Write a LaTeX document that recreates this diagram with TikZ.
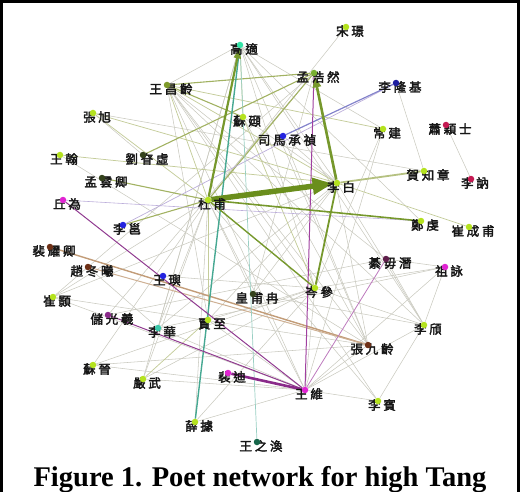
\documentclass[tikz,border=0pt]{standalone}
\usepackage{fontspec}
\usetikzlibrary{arrows.meta, backgrounds}
\newfontfamily\cjk{Noto Sans CJK TC}[LetterSpace=22, FakeBold=2.5]
\newfontfamily\capfont{Liberation Serif}
\definecolor{DotYG}{HTML}{B4E21E}
\definecolor{DotGreen}{HTML}{78B030}
\definecolor{DotOlive}{HTML}{7E9A2A}
\definecolor{DotCyan}{HTML}{34E2A6}
\definecolor{DotTeal}{HTML}{3CC8AA}
\definecolor{DotDeepTeal}{HTML}{16664A}
\definecolor{DotBlue}{HTML}{2424E0}
\definecolor{DotNavy}{HTML}{1E1EA0}
\definecolor{DotMagenta}{HTML}{E024D2}
\definecolor{DotPurple}{HTML}{8A2A8A}
\definecolor{DotPlum}{HTML}{5E1E4A}
\definecolor{DotCrimson}{HTML}{C41A52}
\definecolor{DotBrown}{HTML}{6E3016}
\definecolor{DotDark}{HTML}{34421C}
\definecolor{LabelDark}{HTML}{161616}
\definecolor{EdgeGray}{HTML}{CACAC0}
\definecolor{EdgeKhaki}{HTML}{C4CC9A}
\definecolor{EdgeOlive}{HTML}{A2B262}
\definecolor{EdgeGreen}{HTML}{76982C}
\definecolor{MainGreen}{HTML}{6A8E1C}
\definecolor{EdgeLilac}{HTML}{BCAEDA}
\definecolor{EdgePurple}{HTML}{A040A0}
\definecolor{EdgeTan}{HTML}{C29C78}
\definecolor{EdgeTeal}{HTML}{46A892}

\begin{document}
\begin{tikzpicture}[x=1pt, y=-1pt,
    pdot/.style={circle, inner sep=0pt, minimum size=6.5pt, fill=#1},
    lbl/.style={font=\cjk\fontsize{12.5}{12.5}\selectfont, text=LabelDark, inner sep=0pt},
    faint/.style={draw=EdgeGray, line width=0.55pt},
    khaki/.style={draw=EdgeKhaki, line width=0.75pt},
    olive/.style={draw=EdgeOlive, line width=1.1pt},
    strong/.style={draw=EdgeGreen, line width=#1},
    mainarrow/.style={draw=MainGreen, line width=5.5pt, -{Triangle[length=20pt, width=16pt]}, shorten >=1pt}
  ]
  \useasboundingbox (0,0) rectangle (522,492);

  % frame
  \draw[line width=3.3pt] (1.7,492) -- (1.7,1.6) -- (518.3,1.6) -- (518.3,492);

  % poets
  \foreach \n/\x/\y/\c/\t in {
      songjing/346/27/DotYG/宋璟,
      gaoshi/240/45/DotCyan/高適,
      menghaoran/314/73/DotGreen/孟浩然,
      lilongji/396/83/DotNavy/李隆基,
      wangchangling/167/85/DotOlive/王昌齡,
      zhangxu/93/113/DotYG/張旭,
      suting/243/117/DotYG/蘇頲,
      simachengzhen/283/136/DotBlue/司馬承禎,
      changjian/383/129/DotYG/常建,
      xiaoyingshi/446/125/DotCrimson/蕭穎士,
      wanghan/60/155/DotYG/王翰,
      liushenxu/143/155/DotDark/劉眘虛,
      mengyunqing/102/178/DotDark/孟雲卿,
      dufu/208/200/DotYG/杜甫,
      libai/337/183/DotYG/李白,
      hezhizhang/424/171/DotYG/賀知章,
      line/471/179/DotCrimson/李訥,
      zhengqian/421/221/DotYG/鄭虔,
      cuichengfu/469/227/DotYG/崔成甫,
      qiuwei/63/200/DotMagenta/丘為,
      liyong/123/225/DotBlue/李邕,
      peiyaoqing/50/247/DotBrown/裴耀卿,
      zhaodongxi/88/267/DotBrown/趙冬曦,
      wangyu/163/276/DotBlue/王璵,
      cuihao/53/297/DotYG/崔顥,
      huangfuran/253/294/DotDark/皇甫冉,
      censhen/315/288/DotYG/岑參,
      qiwuqian/386/259/DotPlum/綦毋潛,
      zuyong/445/267/DotMagenta/祖詠,
      chuguangxi/108/315/DotPurple/儲光羲,
      lihua/158/328/DotTeal/李華,
      jiazhi/208/320/DotYG/賈至,
      liqi/424/325/DotYG/李頎,
      zhangjiuling/368/345/DotBrown/張九齡,
      sujin/93/365/DotYG/蘇晉,
      yanwu/143/379/DotYG/嚴武,
      peidi/228/373/DotMagenta/裴迪,
      wangwei/305/390/DotMagenta/王維,
      libin/378/401/DotYG/李賓,
      xueju/195/422/DotYG/薛據,
      wangzhihuan/257/442/DotDeepTeal/王之渙} {
    \node[lbl] (\n-l) at (\x+4,\y+4) {\t};
    \node[pdot=\c] (p-\n) at (\x,\y) {};
  }

  % connectors
  \begin{scope}[on background layer]
    \foreach \a/\b in {songjing/dufu, lilongji/hezhizhang, xiaoyingshi/line,
        gaoshi/changjian, gaoshi/libai, gaoshi/censhen, gaoshi/liqi, gaoshi/zhangjiuling,
        gaoshi/yanwu, gaoshi/lihua, gaoshi/wangchangling, gaoshi/zhengqian,
        wangchangling/censhen, wangchangling/qiwuqian, wangchangling/liqi, wangchangling/wangwei,
        wangchangling/zhangjiuling, wangchangling/libin, wangchangling/jiazhi,
        zhangxu/hezhizhang, suting/zhangjiuling, suting/libai, simachengzhen/libai,
        simachengzhen/zhangjiuling, changjian/wangwei, changjian/censhen,
        menghaoran/zhangjiuling, menghaoran/chuguangxi, menghaoran/cuihao, menghaoran/huangfuran,
        libai/cuihao, libai/jiazhi, libai/huangfuran, libai/lihua, libai/liqi,
        dufu/yanwu, dufu/sujin, dufu/huangfuran, dufu/lihua, dufu/cuihao, dufu/wangwei,
        dufu/xueju, dufu/libin, censhen/wangwei, censhen/jiazhi, censhen/liqi,
        censhen/xueju, censhen/yanwu, censhen/sujin, wangwei/zuyong, wangwei/liqi,
        wangwei/zhangjiuling, wangwei/cuihao, wangwei/libin, wangwei/sujin, wangwei/lihua,
        wangwei/xueju, wangwei/yanwu, liqi/qiwuqian, liqi/zuyong, liqi/libin, zuyong/qiwuqian,
        zuyong/censhen, chuguangxi/qiwuqian, sujin/zhangjiuling, zhaodongxi/lihua,
        cuihao/zhangjiuling, jiazhi/wangwei, wangyu/censhen, huangfuran/liqi, wanghan/zhangjiuling,
        zhangxu/liushenxu, lihua/zuyong}
      \draw[faint] (p-\a) -- (p-\b);
    \foreach \a/\b in {wangchangling/libai, wangchangling/changjian, zhangxu/dufu, zhangxu/libai,
        wanghan/libai, libai/cuichengfu, jiazhi/dufu, yanwu/jiazhi, gaoshi/suting,
        wangchangling/dufu, suting/censhen}
      \draw[khaki] (p-\a) -- (p-\b);
    \foreach \a/\b in {wangchangling/menghaoran, liushenxu/menghaoran, mengyunqing/dufu,
        liyong/dufu, dufu/menghaoran, wangchangling/suting}
      \draw[olive] (p-\a) -- (p-\b);
    \draw[draw=EdgeOlive!80, line width=1.8pt] (p-libai) -- (p-hezhizhang);
    \draw[draw=EdgeLilac, line width=0.7pt] (p-lilongji) -- (p-liyong);
    \draw[draw=EdgeLilac, line width=0.6pt] (p-qiuwei) -- (p-zhengqian);
    \draw[draw=DotNavy!55, line width=1.2pt] (p-lilongji) -- (p-simachengzhen);
    \draw[draw=EdgeTan, line width=1.4pt] (p-peiyaoqing) -- (p-zhangjiuling);
    \draw[draw=EdgeTan!80, line width=1pt] (p-zhaodongxi) -- (p-zhangjiuling);
    \draw[draw=EdgeTeal, line width=1.4pt] (p-gaoshi) -- (p-xueju);
    \draw[draw=EdgeTeal!55, line width=0.7pt] (p-gaoshi) -- (p-wangzhihuan);
    \draw[draw=EdgePurple, line width=1pt] (p-menghaoran) -- (p-wangwei);
    \draw[draw=EdgePurple!90!black, line width=1pt] (p-qiuwei) -- (p-wangwei);
    \draw[draw=EdgePurple!90!black, line width=1pt] (p-chuguangxi) -- (p-wangwei);
    \draw[draw=EdgePurple!70, line width=0.8pt] (p-qiwuqian) -- (p-wangwei);
    \draw[draw=DotPurple, line width=2.6pt] (p-peidi) -- (p-wangwei);
    \draw[strong=1.4pt] (p-dufu) -- (p-censhen);
    \draw[strong=1.6pt] (p-dufu) -- (p-zhengqian);
    \draw[strong=1.8pt] (p-censhen) -- (p-libai);
    \draw[strong=2.6pt, -{Triangle[length=11pt, width=8pt]}] (p-libai) -- (p-menghaoran);
    \draw[strong=2.2pt, -{Triangle[length=10pt, width=7pt]}] (p-dufu) -- (p-gaoshi);
    \draw[mainarrow] (p-dufu) -- (p-libai);
  \end{scope}

  % caption
  \node[font=\capfont\bfseries\fontsize{28.5}{30}\selectfont, anchor=base, inner sep=0pt] (caption)
    at (260,486) {Figure 1. Poet network for high Tang};
\end{tikzpicture}
\end{document}
